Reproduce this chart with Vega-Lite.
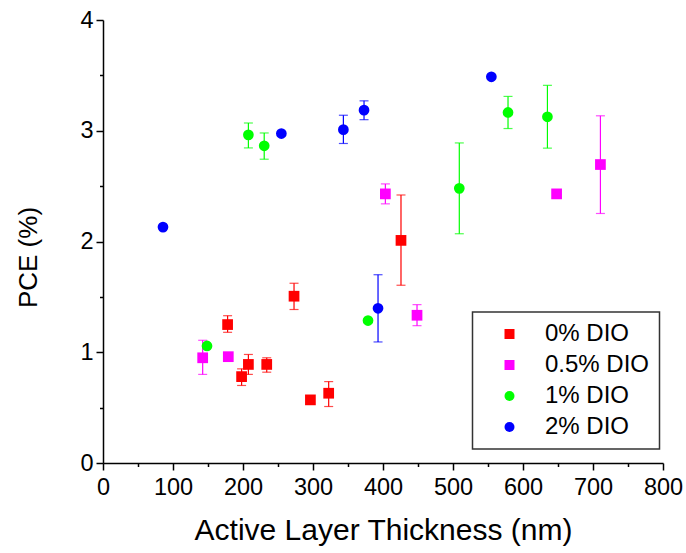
{
  "$schema": "https://vega.github.io/schema/vega-lite/v6.json",
  "autosize": {"type": "none"},
  "padding": {"left": 103, "top": 20, "right": 23, "bottom": 90},
  "width": 560,
  "height": 443,
  "background": "white",
  "config": {
    "view": {"stroke": null},
    "font": "Liberation Sans",
    "axis": {
      "grid": false,
      "domainColor": "black",
      "domainWidth": 1.5,
      "tickColor": "black",
      "tickWidth": 1.5,
      "labelColor": "black",
      "labelFont": "Liberation Sans",
      "labelFontSize": 23.5,
      "titleColor": "black",
      "titleFont": "Liberation Sans",
      "titleFontWeight": "normal"
    },
    "legend": {
      "title": null,
      "orient": "none",
      "legendX": 369.5,
      "legendY": 292,
      "padding": 10,
      "strokeColor": "#333333",
      "strokeWidth": 1.5,
      "fillColor": "white",
      "symbolSize": 100,
      "symbolStrokeWidth": 0,
      "symbolOpacity": 1,
      "symbolOffset": 15,
      "labelOffset": 23.5,
      "labelFont": "Liberation Sans",
      "labelFontSize": 24,
      "labelColor": "black",
      "rowPadding": 7,
      "labelLimit": 300
    }
  },
  "data": {
    "values": [
      {"series": "0% DIO", "t": 178, "pce": 1.25, "lo": 1.18, "hi": 1.33},
      {"series": "0% DIO", "t": 198, "pce": 0.78, "lo": 0.70, "hi": 0.85},
      {"series": "0% DIO", "t": 207.7, "pce": 0.89, "lo": 0.80, "hi": 0.98},
      {"series": "0% DIO", "t": 233.9, "pce": 0.89, "lo": 0.82, "hi": 0.95},
      {"series": "0% DIO", "t": 272.9, "pce": 1.506, "lo": 1.386, "hi": 1.623},
      {"series": "0% DIO", "t": 296.3, "pce": 0.57, "lo": null, "hi": null},
      {"series": "0% DIO", "t": 322.4, "pce": 0.63, "lo": 0.51, "hi": 0.735},
      {"series": "0% DIO", "t": 425.7, "pce": 2.01, "lo": 1.605, "hi": 2.42},
      {"series": "0.5% DIO", "t": 142.4, "pce": 0.95, "lo": 0.80, "hi": 1.108},
      {"series": "0.5% DIO", "t": 179, "pce": 0.96, "lo": null, "hi": null},
      {"series": "0.5% DIO", "t": 403.4, "pce": 2.43, "lo": 2.34, "hi": 2.52},
      {"series": "0.5% DIO", "t": 448.6, "pce": 1.334, "lo": 1.24, "hi": 1.43},
      {"series": "0.5% DIO", "t": 648, "pce": 2.43, "lo": null, "hi": null},
      {"series": "0.5% DIO", "t": 710.6, "pce": 2.695, "lo": 2.253, "hi": 3.135},
      {"series": "1% DIO", "t": 148.6, "pce": 1.057, "lo": null, "hi": null},
      {"series": "1% DIO", "t": 207.7, "pce": 2.963, "lo": 2.845, "hi": 3.07},
      {"series": "1% DIO", "t": 230.3, "pce": 2.864, "lo": 2.743, "hi": 2.98},
      {"series": "1% DIO", "t": 378.6, "pce": 1.286, "lo": null, "hi": null},
      {"series": "1% DIO", "t": 509, "pce": 2.48, "lo": 2.07, "hi": 2.89},
      {"series": "1% DIO", "t": 578.6, "pce": 3.165, "lo": 3.02, "hi": 3.31},
      {"series": "1% DIO", "t": 634.9, "pce": 3.126, "lo": 2.843, "hi": 3.41},
      {"series": "2% DIO", "t": 85.7, "pce": 2.13, "lo": null, "hi": null},
      {"series": "2% DIO", "t": 254.8, "pce": 2.975, "lo": null, "hi": null},
      {"series": "2% DIO", "t": 343.4, "pce": 3.01, "lo": 2.885, "hi": 3.14},
      {"series": "2% DIO", "t": 372.9, "pce": 3.186, "lo": 3.10, "hi": 3.27},
      {"series": "2% DIO", "t": 392.9, "pce": 1.397, "lo": 1.093, "hi": 1.70},
      {"series": "2% DIO", "t": 554.8, "pce": 3.487, "lo": null, "hi": null}
    ]
  },
  "encoding": {
    "x": {
      "field": "t", "type": "quantitative",
      "scale": {"domain": [0, 800], "nice": false},
      "axis": {
        "title": "Active Layer Thickness (nm)",
        "titleFontSize": 30,
        "values": [0, 50, 100, 150, 200, 250, 300, 350, 400, 450, 500, 550, 600, 650, 700, 750, 800],
        "labelExpr": "datum.value % 100 === 0 ? format(datum.value, 'd') : ''",
        "tickSize": {"condition": {"test": "datum.value % 100 !== 0", "value": 3.5}, "value": 7},
        "labelPadding": 5,
        "labelFlush": false,
        "labelOverlap": false,
        "titlePadding": 17
      }
    },
    "y": {
      "field": "pce", "type": "quantitative",
      "scale": {"domain": [0, 4], "nice": false},
      "axis": {
        "title": "PCE (%)",
        "titleFontSize": 26,
        "titleY": 237,
        "titleAlign": "center",
        "values": [0, 0.5, 1, 1.5, 2, 2.5, 3, 3.5, 4],
        "labelExpr": "datum.value % 1 === 0 ? format(datum.value, 'd') : ''",
        "tickSize": {"condition": {"test": "datum.value % 1 !== 0", "value": 3.5}, "value": 7},
        "labelPadding": 3,
        "labelFlush": false,
        "labelOverlap": false,
        "titlePadding": 38
      }
    },
    "color": {
      "field": "series", "type": "nominal",
      "scale": {"domain": ["0% DIO", "0.5% DIO", "1% DIO", "2% DIO"], "range": ["#ff0000", "#ff00ff", "#00ff00", "#0000ff"]}
    }
  },
  "layer": [
    {
      "transform": [{"filter": "datum.lo != null"}],
      "mark": {"type": "rule", "strokeWidth": 1.2},
      "encoding": {"y": {"field": "lo", "type": "quantitative"}, "y2": {"field": "hi"}}
    },
    {
      "transform": [{"filter": "datum.lo != null"}],
      "mark": {"type": "tick", "orient": "horizontal", "size": 9, "thickness": 1.2},
      "encoding": {"y": {"field": "lo", "type": "quantitative"}}
    },
    {
      "transform": [{"filter": "datum.hi != null"}],
      "mark": {"type": "tick", "orient": "horizontal", "size": 9, "thickness": 1.2},
      "encoding": {"y": {"field": "hi", "type": "quantitative"}}
    },
    {
      "mark": {"type": "point", "filled": true, "opacity": 1, "size": 115},
      "encoding": {
        "shape": {
          "field": "series", "type": "nominal",
          "scale": {"domain": ["0% DIO", "0.5% DIO", "1% DIO", "2% DIO"], "range": ["square", "square", "circle", "circle"]}
        }
      }
    }
  ]
}
